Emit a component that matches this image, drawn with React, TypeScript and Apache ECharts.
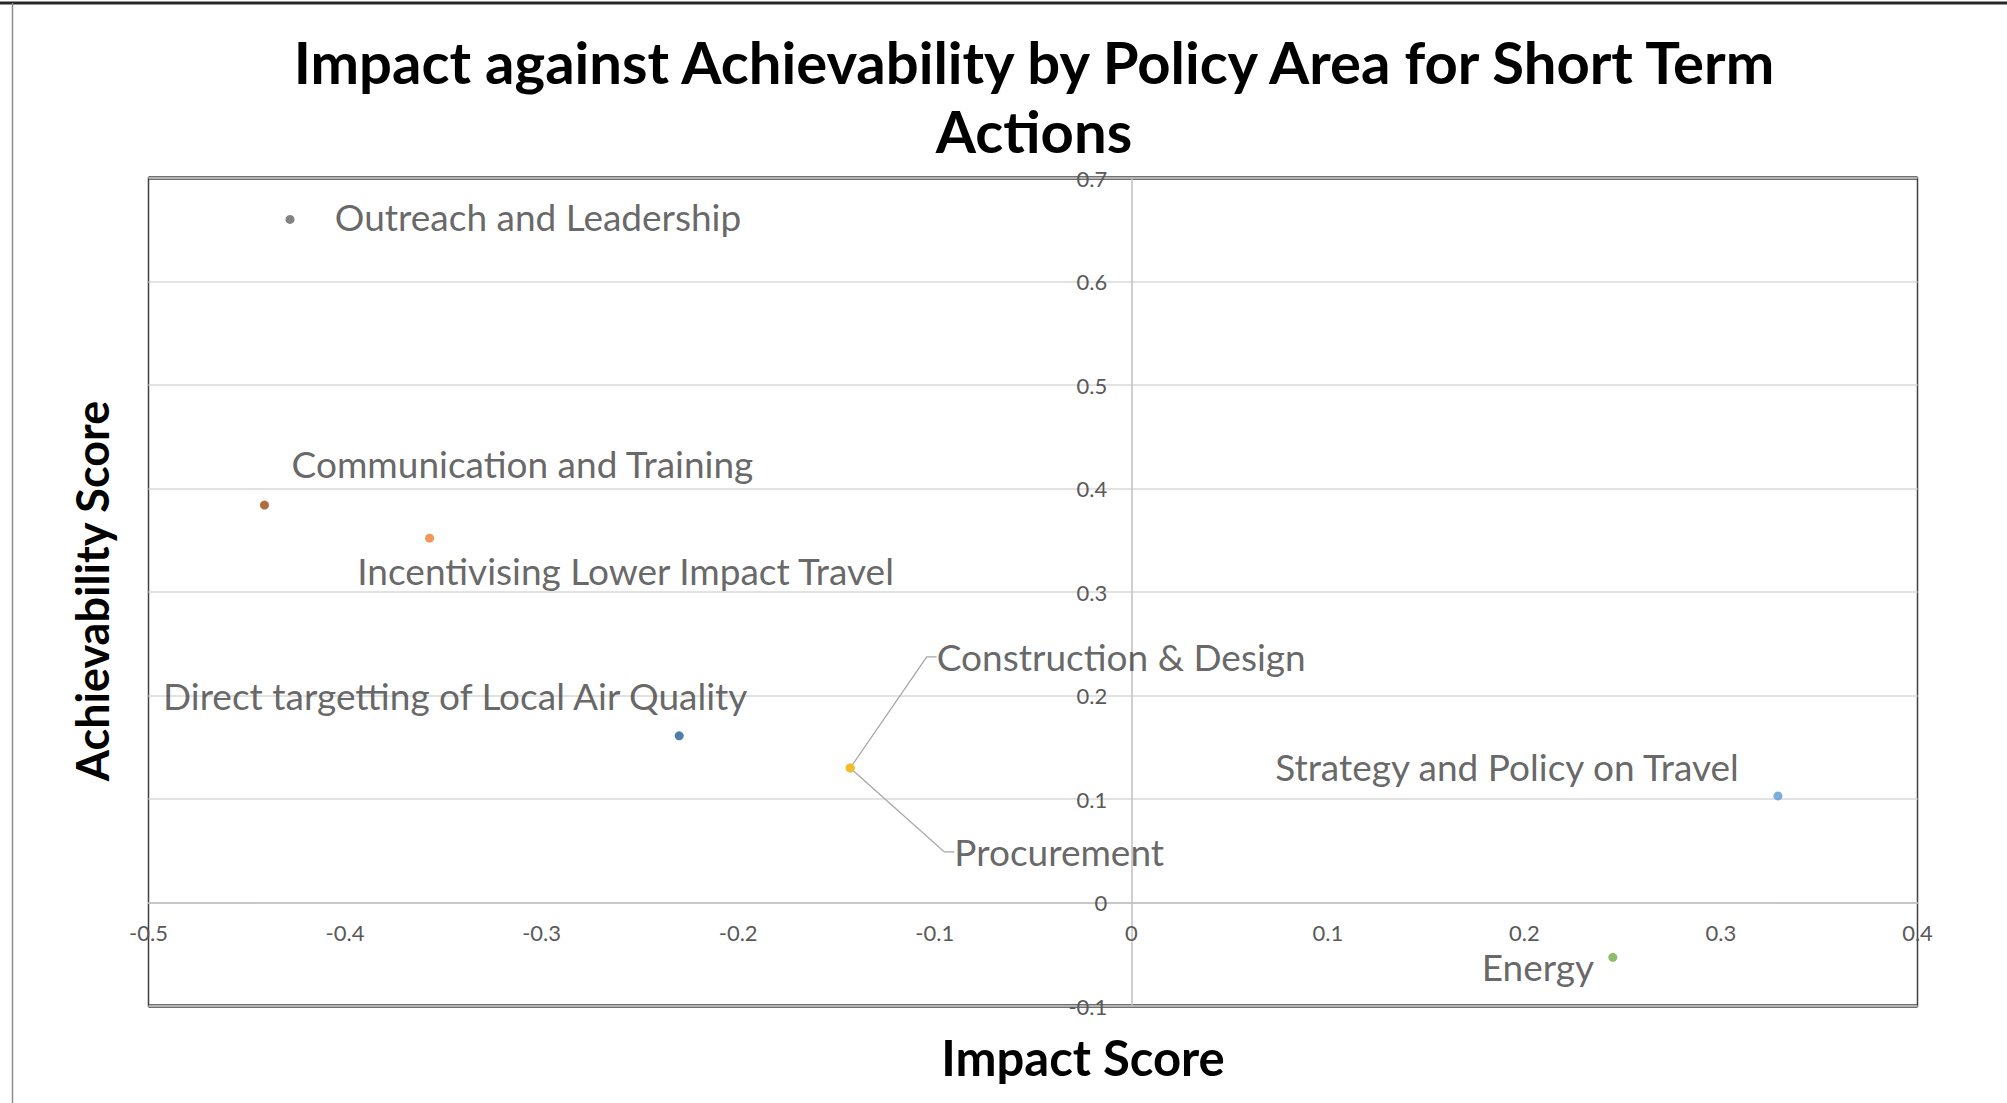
import React, { useEffect, useRef } from "react";
import * as echarts from "echarts";

// ---- data ----
const policyAreas = [
  "Strategy and Policy on Travel",
  "Incentivising Lower Impact Travel",
  "Procurement",
  "Construction & Design",
  "Energy",
  "Direct targetting of Local Air Quality",
  "Communication and Training",
  "Outreach and Leadership",
];
const impactScores = [0.329, -0.357, -0.143, -0.143, 0.245, -0.23, -0.441, -0.428];
const achievabilityScores = [0.103, 0.352, 0.13, 0.13, -0.053, 0.161, 0.384, 0.66];

const xTicks = { min: -0.5, max: 0.4, step: 0.1 };
const yTicks = { min: -0.1, max: 0.7, step: 0.1 };

const chartTitle = "Impact against Achievability by Policy Area for Short Term\nActions";
const xTitle = "Impact Score";
const yTitle = "Achievability Score";

// ---- styles / layout ----
const pointColors = ["#5B9BD5", "#ED7D31", "#A5A5A5", "#FFC000", "#70AD47", "#255E91", "#9E480E", "#636363"];
const labelOffsets: [number, number][] = [
  [-271, -29],
  [196, 32],
  [209, 84],
  [271, -111],
  [-75, 9],
  [-224, -40],
  [258, -42],
  [248, -3],
];
const leaderLines = [false, false, true, true, false, false, false, false];

const W = 2007;
const H = 1103;
const GRID = { left: 148.5, top: 178, right: 89.5, bottom: 97 };
const FONT = "Lato, 'Open Sans', sans-serif";

export default function App() {
  const ref = useRef<HTMLDivElement>(null);
  useEffect(() => {
    document.body.style.margin = "0";
    const chart = echarts.init(ref.current!, undefined, { renderer: "svg", width: W, height: H });
    const data = policyAreas.map((name, i) => ({
      name,
      value: [impactScores[i], achievabilityScores[i]],
      itemStyle: { color: pointColors[i] },
      labelLine: { show: leaderLines[i], length2: 10, lineStyle: { color: "#A6A6A6", width: 1.3 } },
    }));
    const gl = GRID.left;
    const gr = W - GRID.right;
    const gt = GRID.top;
    const gb = H - GRID.bottom;
    // place each axis where the other axis is zero (axes cross at the origin)
    const xAxisOffset = -((gb - gt) * (0 - yTicks.min)) / (yTicks.max - yTicks.min);
    const yAxisOffset = -((gr - gl) * (0 - xTicks.min)) / (xTicks.max - xTicks.min);
    chart.setOption({
      animation: false,
      backgroundColor: "#ffffff",
      title: {
        text: chartTitle,
        left: 1029,
        top: 22,
        textAlign: "center",
        textStyle: { fontFamily: FONT, fontSize: 58, fontWeight: "bold", color: "#000", lineHeight: 69 },
      },
      grid: {
        left: GRID.left,
        right: GRID.right,
        top: GRID.top,
        bottom: GRID.bottom,
        show: true,
        borderColor: "#404040",
        borderWidth: 1.5,
        backgroundColor: "transparent",
      },
      xAxis: {
        type: "value",
        position: "bottom",
        offset: xAxisOffset,
        min: xTicks.min,
        max: xTicks.max,
        interval: xTicks.step,
        splitLine: { show: false },
        axisTick: { show: false },
        axisLine: { onZero: false, lineStyle: { color: "#BFBFBF", width: 1.5 } },
        axisLabel: {
          color: "#595959",
          fontFamily: FONT,
          fontSize: 22,
          margin: 19,
          formatter: (v: number) => String(Math.round(v * 10) / 10),
        },
      },
      yAxis: {
        type: "value",
        position: "left",
        offset: yAxisOffset,
        min: yTicks.min,
        max: yTicks.max,
        interval: yTicks.step,
        splitLine: { show: true, lineStyle: { color: "#D9D9D9", width: 1.5 } },
        axisTick: { show: false },
        axisLine: { onZero: false, lineStyle: { color: "#BFBFBF", width: 1.5 } },
        axisLabel: {
          color: "#595959",
          fontFamily: FONT,
          fontSize: 22,
          margin: 24,
          formatter: (v: number) => String(Math.round(v * 10) / 10),
        },
      },
      series: [
        {
          type: "scatter",
          symbol: "circle",
          symbolSize: 9,
          data,
          label: {
            show: true,
            position: "inside",
            formatter: "{b}",
            fontFamily: FONT,
            fontSize: 37,
            color: "#404040",
            align: "center",
            verticalAlign: "middle",
          },
          labelLayout: (p: any) => ({ dx: labelOffsets[p.dataIndex][0], dy: labelOffsets[p.dataIndex][1] }),
          emphasis: { disabled: true },
        },
      ],
      graphic: [
        { type: "line", shape: { x1: 0, y1: 3, x2: W, y2: 3 }, style: { stroke: "#262626", lineWidth: 3 } },
        { type: "line", shape: { x1: 12.5, y1: 3, x2: 12.5, y2: H }, style: { stroke: "#8C8C8C", lineWidth: 1.5 } },
        { type: "line", shape: { x1: gl, y1: gt, x2: gr, y2: gt }, style: { stroke: "#404040", lineWidth: 3.5 } },
        { type: "line", shape: { x1: gl, y1: gb, x2: gr, y2: gb }, style: { stroke: "#404040", lineWidth: 3.5 } },
        {
          type: "text",
          x: 1083,
          y: 1057,
          style: { text: xTitle, fontFamily: FONT, fontSize: 49, fontWeight: "bold", fill: "#000", align: "center", verticalAlign: "middle" },
        },
        {
          type: "text",
          x: 92,
          y: 591,
          rotation: Math.PI / 2,
          style: { text: yTitle, fontFamily: FONT, fontSize: 45, fontWeight: "bold", fill: "#000", align: "center", verticalAlign: "middle" },
        },
      ],
    });
    return () => chart.dispose();
  }, []);
  return <div ref={ref} style={{ width: W, height: H }} />;
}
